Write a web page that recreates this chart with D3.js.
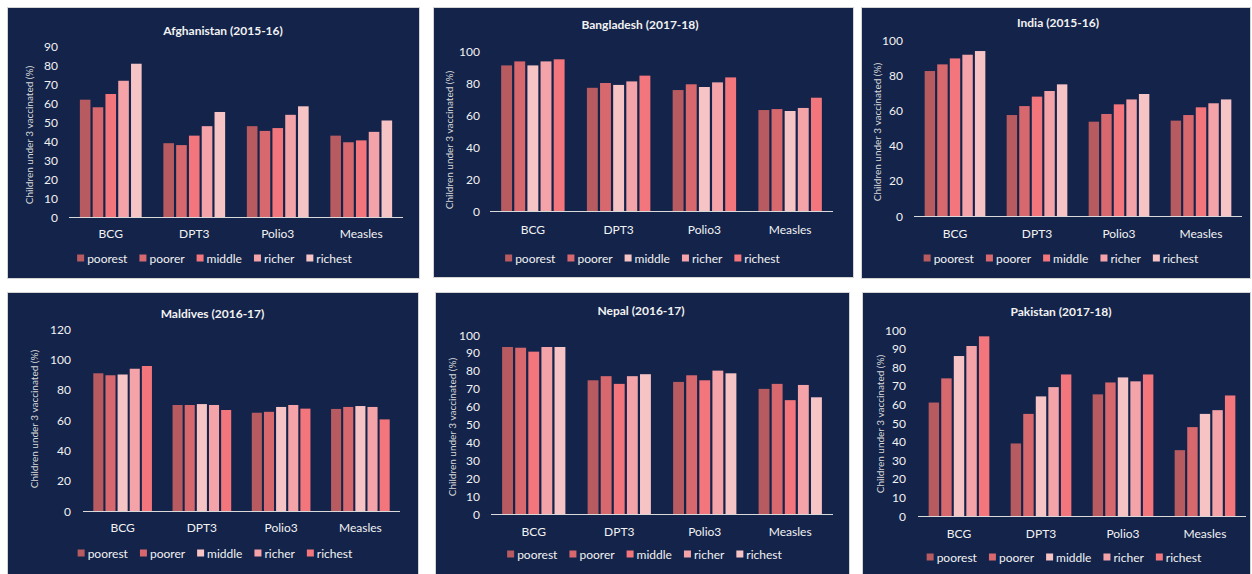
<!DOCTYPE html>
<html>
<head>
<meta charset="utf-8">
<script src="https://cdn.jsdelivr.net/npm/d3@7"></script>
<style>
  html, body { margin: 0; padding: 0; background: #ffffff; }
  svg { display: block; }
  text { font-family: Lato, "Open Sans", sans-serif; }
</style>
</head>
<body>
<svg id="chart" width="1252" height="574"></svg>
<script>
// ---------------- DATA ----------------
const vaccines = ["BCG", "DPT3", "Polio3", "Measles"];
const quintiles = ["poorest", "poorer", "middle", "richer", "richest"];

// values[vaccine][quintile]
const afghanistan = [
  [62, 58, 65, 72, 81],
  [39, 38, 43, 48, 55.5],
  [48, 45.5, 47, 54, 58.5],
  [43, 39.5, 40.5, 45, 51]
];
const bangladesh = [
  [91, 93.5, 91, 93.5, 94.8],
  [77, 80, 78.8, 81, 84.6],
  [75.6, 79.2, 77.5, 80.4, 83.5],
  [63.1, 63.7, 62.5, 64.4, 70.8]
];
const india = [
  [82.7, 86.5, 89.9, 92, 94.1],
  [57.6, 62.7, 68.1, 71.3, 75.1],
  [53.8, 58.2, 63.7, 66.5, 69.6],
  [54.4, 57.6, 62, 64.3, 66.5]
];
const maldives = [
  [90.8, 89.5, 90, 93.8, 95.6],
  [69.9, 69.9, 70.5, 69.9, 66.6],
  [64.8, 65.4, 68.6, 69.9, 67.5],
  [67.3, 68.6, 69.2, 68.6, 60.4]
];
const nepal = [
  [93.3, 92.9, 90.7, 93.3, 93.3],
  [74.7, 77, 72.7, 77, 78.1],
  [73.8, 77.5, 74.7, 80.1, 78.6],
  [69.9, 72.7, 63.6, 72.1, 65.2]
];
const pakistan = [
  [61, 74, 86, 91.4, 96.6],
  [39, 54.9, 64.3, 69.3, 76.1],
  [65.4, 71.8, 74.5, 72.4, 76.1],
  [35.4, 47.8, 54.9, 56.9, 64.8]
];

const titles = ["Afghanistan (2015-16)", "Bangladesh (2017-18)", "India (2015-16)",
                "Maldives (2016-17)", "Nepal (2016-17)", "Pakistan (2017-18)"];
const datasets = [afghanistan, bangladesh, india, maldives, nepal, pakistan];
const yMax = [90, 100, 100, 120, 100, 100];
const yStep = [10, 20, 20, 20, 10, 10];
const yTitle = "Children under 3 vaccinated (%)";

// ---------------- STYLE ----------------
const palette = ["#b85b60", "#d6686e", "#f2767c", "#f4a4a8", "#f7c4c6"];
// colour index per quintile, per panel
const colorMaps = [
  [0, 1, 2, 3, 4],
  [0, 1, 4, 3, 2],
  [0, 1, 2, 3, 4],
  [0, 1, 4, 3, 2],
  [0, 1, 2, 3, 4],
  [0, 1, 4, 3, 2]
];
const bg = "#13234a";

// ---------------- LAYOUT ----------------
const layouts = [
  { rect: [7, 7, 412, 271],  ax: [69, 403],  ay: [217, 46.7], tickR: 58,  titleX: 223,  titleY: 30,  catY: 233, legY: 258, legX: 214.5, ytX: 29,  ytY: 135 },
  { rect: [433, 7, 420, 270], ax: [490, 833], ay: [211, 51],   tickR: 480, titleX: 640,  titleY: 24,  catY: 229, legY: 258, legX: 642.5, ytX: 449, ytY: 140 },
  { rect: [861, 7, 389, 271], ax: [914, 1242], ay: [216, 40.7], tickR: 903, titleX: 1058, titleY: 22,  catY: 233, legY: 258, legX: 1061, ytX: 877, ytY: 132 },
  { rect: [7, 292, 411, 290], ax: [83, 400],  ay: [511, 329],  tickR: 71,  titleX: 212.5, titleY: 313, catY: 527, legY: 553, legX: 215, ytX: 34,  ytY: 419 },
  { rect: [435, 292, 414, 290], ax: [491, 833], ay: [514, 335], tickR: 480, titleX: 641, titleY: 310, catY: 531, legY: 554, legX: 644.5, ytX: 452, ytY: 427 },
  { rect: [862, 292, 388, 290], ax: [918, 1246], ay: [516, 330], tickR: 906, titleX: 1061, titleY: 311, catY: 533, legY: 557, legX: 1064, ytX: 880, ytY: 424 }
];

const svg = d3.select("#chart");

datasets.forEach((data, p) => {
  const L = layouts[p];
  const g = svg.append("g");
  g.append("rect")
    .attr("x", L.rect[0] + 0.5).attr("y", L.rect[1] + 0.5)
    .attr("width", L.rect[2]).attr("height", L.rect[3])
    .attr("fill", bg).attr("stroke", "#d4d4d4").attr("stroke-width", 1);

  const x = d3.scaleBand().domain(vaccines).range(L.ax).paddingInner(0.26).paddingOuter(0.13);
  const xs = d3.scaleBand().domain(quintiles).range([0, x.bandwidth()]).paddingInner(0.17);
  const y = d3.scaleLinear().domain([0, yMax[p]]).range(L.ay);
  const cmap = colorMaps[p];

  // bars
  const groups = g.selectAll("g.grp").data(data).join("g")
    .attr("transform", (d, i) => `translate(${x(vaccines[i])},0)`);
  groups.selectAll("rect").data(d => d).join("rect")
    .attr("x", (d, j) => xs(quintiles[j]))
    .attr("width", xs.bandwidth())
    .attr("y", d => y(d))
    .attr("height", d => y(0) - y(d))
    .attr("fill", (d, j) => palette[cmap[j]]);

  // baseline
  g.append("line")
    .attr("x1", L.ax[0]).attr("x2", L.ax[1])
    .attr("y1", y(0) + 0.5).attr("y2", y(0) + 0.5)
    .attr("stroke", "#d9d9d9").attr("stroke-width", 1);

  // y ticks
  const ticks = d3.range(0, yMax[p] + 0.001, yStep[p]);
  g.selectAll("text.yt").data(ticks).join("text")
    .attr("x", L.tickR).attr("y", d => y(d))
    .attr("text-anchor", "end").attr("dominant-baseline", "central")
    .attr("fill", "#f2f2f2").attr("font-size", 12)
    .text(d => d);

  // category labels
  g.selectAll("text.xc").data(vaccines).join("text")
    .attr("x", d => x(d) + x.bandwidth() / 2).attr("y", L.catY)
    .attr("text-anchor", "middle").attr("dominant-baseline", "central")
    .attr("fill", "#f2f2f2").attr("font-size", 12)
    .text(d => d);

  // title
  g.append("text")
    .attr("x", L.titleX).attr("y", L.titleY)
    .attr("text-anchor", "middle").attr("dominant-baseline", "central")
    .attr("fill", "#f2f2f2").attr("font-size", 12).attr("font-weight", "bold")
    .text(titles[p]);

  // y title
  g.append("text")
    .attr("transform", `translate(${L.ytX},${L.ytY}) rotate(-90)`)
    .attr("text-anchor", "middle").attr("dominant-baseline", "central")
    .attr("fill", "#d9d9d9").attr("font-size", 10)
    .text(yTitle);

  // legend
  const leg = g.append("g");
  let cx = 0;
  quintiles.forEach((q, j) => {
    const it = leg.append("g").attr("transform", `translate(${cx},0)`);
    it.append("rect").attr("x", 0).attr("y", -3.5).attr("width", 7).attr("height", 7)
      .attr("fill", palette[cmap[j]]);
    const t = it.append("text").attr("x", 10).attr("y", 0)
      .attr("dominant-baseline", "central")
      .attr("fill", "#f2f2f2").attr("font-size", 12).text(q);
    cx += 10 + t.node().getComputedTextLength() + 12;
  });
  const legW = cx - 12;
  leg.attr("transform", `translate(${L.legX - legW / 2},${L.legY})`);
});
</script>
</body>
</html>
